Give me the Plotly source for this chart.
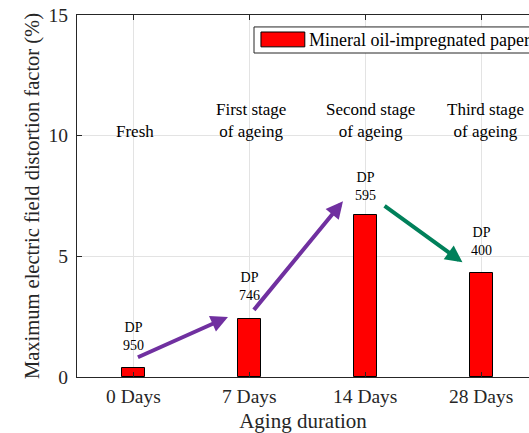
import plotly.graph_objects as go

# Aging durations and measured maximum field distortion factor (%)
categories = ["0 Days", "7 Days", "14 Days", "28 Days"]
distortion = [0.37, 2.40, 6.70, 4.33]
series_name = "Mineral oil-impregnated paper"

# Degree of polymerisation labels above each bar
dp_values = [950, 746, 595, 400]
dp_label_y = [1.66, 3.75, 7.89, 5.61]

# Ageing stage labels
stage_labels = ["Fresh", "First stage<br>of ageing", "Second stage<br>of ageing", "Third stage<br>of ageing"]
stage_x = [0.014, 1.015, 2.047, 3.039]
stage_y = [10.18, 10.62, 10.62, 10.62]

# Trend arrows: (tail x, tail y, head x, head y, colour)
arrows = [
    (0.026, 0.79, 0.816, 2.49, "#7030A0"),
    (1.029, 2.72, 1.808, 7.28, "#7030A0"),
    (2.154, 7.14, 2.839, 4.75, "#00805A"),
]

FONT = "Liberation Serif, Times New Roman, serif"
INK = "#262626"
GRID = "#E3E3E3"

fig = go.Figure()
fig.add_trace(go.Bar(
    x=categories, y=distortion, width=0.2, name=series_name,
    marker=dict(color="#FF0000", line=dict(color="#000000", width=1)),
    showlegend=False,
))

annotations = []
for i, (dp, y) in enumerate(zip(dp_values, dp_label_y)):
    annotations.append(dict(
        x=i, y=y, xref="x", yref="y", text=f"DP<br>{dp}", showarrow=False,
        font=dict(family=FONT, size=14, color="#000000"), yanchor="middle",
    ))
for txt, x, y in zip(stage_labels, stage_x, stage_y):
    annotations.append(dict(
        x=x, y=y, xref="x", yref="y", text=txt, showarrow=False,
        font=dict(family=FONT, size=17, color="#000000"), yanchor="middle",
    ))
for ax_, ay_, hx, hy, col in arrows:
    annotations.append(dict(
        x=hx, y=hy, ax=ax_, ay=ay_, xref="x", yref="y", axref="x", ayref="y",
        text="", showarrow=True, arrowhead=2, arrowsize=0.85, arrowwidth=4,
        arrowcolor=col, standoff=0,
    ))
# Legend entry
annotations.append(dict(
    x=0.5095, y=0.931, xref="paper", yref="paper", text=series_name,
    showarrow=False, xanchor="left", yanchor="middle",
    font=dict(family=FONT, size=18, color="#000000"),
))

shapes = [
    dict(type="rect", xref="paper", yref="paper", x0=0.3916, x1=1.05, y0=0.895, y1=0.967,
         line=dict(color=INK, width=1), fillcolor="white", layer="above"),
    dict(type="rect", xref="paper", yref="paper", x0=0.407, x1=0.504, y0=0.912, y1=0.953,
         line=dict(color="#000000", width=1), fillcolor="#FF0000", layer="above"),
]

fig.update_layout(
    width=529, height=433, autosize=False,
    margin=dict(l=77, r=0, t=15, b=56),
    paper_bgcolor="white", plot_bgcolor="white",
    font=dict(family=FONT, color=INK),
    annotations=annotations, shapes=shapes,
    bargap=0,
)
fig.update_xaxes(
    type="category", range=[-0.4866, 3.413],
    showline=True, linecolor=INK, linewidth=1, mirror="ticks",
    ticks="inside", ticklen=5, tickcolor=INK,
    showgrid=True, gridcolor=GRID, gridwidth=1,
    tickfont=dict(family=FONT, size=19.5, color=INK), ticklabelstandoff=2,
    title=dict(text="Aging duration", font=dict(family=FONT, size=21, color=INK), standoff=10),
)
fig.update_yaxes(
    range=[0, 15], tickvals=[0, 5, 10, 15],
    showline=True, linecolor=INK, linewidth=1, mirror=False,
    ticks="inside", ticklen=5, tickcolor=INK, zeroline=False,
    showgrid=True, gridcolor=GRID, gridwidth=1,
    tickfont=dict(family=FONT, size=19.5, color=INK), ticklabelstandoff=4,
    title=dict(text="Maximum electric field distortion factor (%)",
               font=dict(family=FONT, size=20.5, color=INK), standoff=3),
)

fig.write_html("out.html")
